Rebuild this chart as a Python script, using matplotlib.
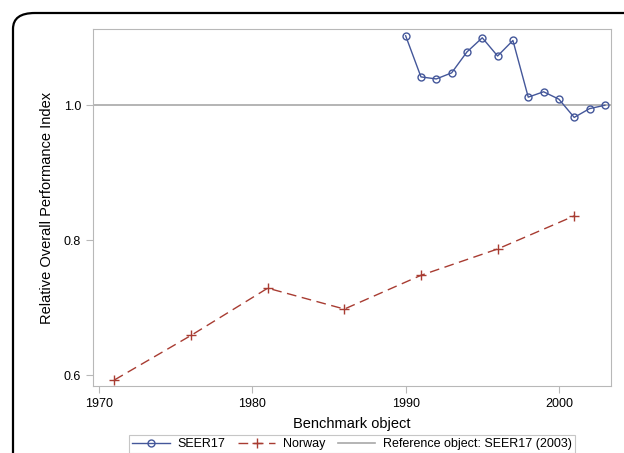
import matplotlib
matplotlib.use('Agg')
import matplotlib.pyplot as plt
from matplotlib.patches import FancyBboxPatch

plt.rcParams['font.family'] = ['Liberation Sans', 'DejaVu Sans']

# SEER17 benchmark values
seer_years = [1990, 1991, 1992, 1993, 1994, 1995, 1996, 1997, 1998, 1999, 2000, 2001, 2002, 2003]
seer_index = [1.103, 1.042, 1.039, 1.048, 1.079, 1.100, 1.073, 1.096, 1.012, 1.020, 1.009, 0.982, 0.995, 1.000]

# Norway benchmark values
norway_years = [1971, 1976, 1981, 1986, 1991, 1996, 2001]
norway_index = [0.593, 0.659, 0.729, 0.698, 0.748, 0.787, 0.836]

ref_value = 1.0
x_ticks = [1970, 1980, 1990, 2000]
y_ticks = [0.6, 0.8, 1.0]

fig = plt.figure(figsize=(6.24, 4.53), dpi=100)

# rounded frame round the whole graph
frame = FancyBboxPatch((13 / 624, -0.2), 1.2, 1 - 13 / 453 + 0.2,
                       boxstyle='round,pad=0,rounding_size=0.035',
                       transform=fig.transFigure, facecolor='none',
                       edgecolor='black', linewidth=1.6, clip_on=False)
fig.patches.append(frame)

ax = fig.add_axes([93 / 624, 1 - 386 / 453, (611 - 93) / 624, (386 - 29) / 453])

gray = '#b8b8b8'
ax.axhline(ref_value, color='#a8a8a8', linewidth=1.2,
           label='Reference object: SEER17 (2003)', zorder=1)
ax.plot(seer_years, seer_index, color='#44579a', linewidth=1, marker='o',
        markersize=5, markerfacecolor='none', markeredgecolor='#44579a',
        markeredgewidth=1, label='SEER17', zorder=3)
ax.plot(norway_years, norway_index, color='#a83c32', linewidth=1,
        dashes=(7, 4), marker='+', markersize=6.5, markeredgewidth=1,
        label='Norway', zorder=3)

ax.set_xlim(1969.6, 2003.4)
ax.set_ylim(0.584, 1.113)
ax.set_xticks(x_ticks)
ax.set_yticks(y_ticks)
ax.set_yticklabels(['0.6', '0.8', '1.0'])

for sp in ax.spines.values():
    sp.set_color(gray)
ax.tick_params(colors=gray, labelcolor='black', labelsize=9, length=5)

ax.set_xlabel('Benchmark object', fontsize=10.5, labelpad=5)
ax.set_ylabel('Relative Overall Performance Index', fontsize=10.5, labelpad=7)

handles, labels = ax.get_legend_handles_labels()
order = [1, 2, 0]
leg = fig.legend([handles[i] for i in order], [labels[i] for i in order],
                 loc='center', bbox_to_anchor=(352 / 624, 1 - 444 / 453),
                 ncol=3, fontsize=9, frameon=True, fancybox=False,
                 handlelength=3.0, handletextpad=0.6, columnspacing=1.0,
                 borderpad=0.25)
leg.get_frame().set_edgecolor(gray)
leg.get_frame().set_linewidth(0.8)

fig.savefig('out.png', dpi=100)
